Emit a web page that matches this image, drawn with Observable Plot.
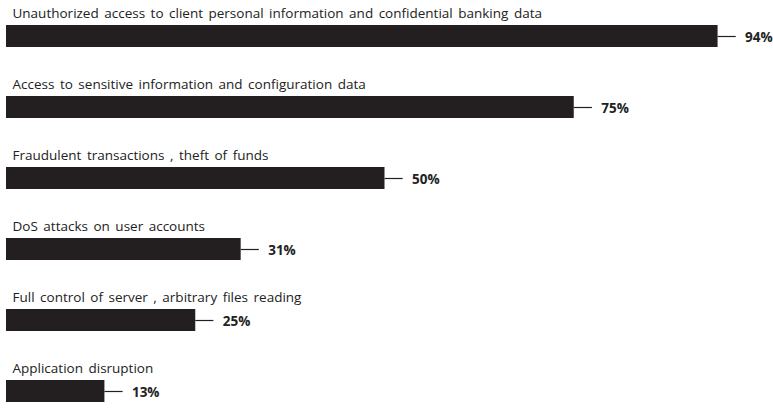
<!DOCTYPE html>
<html>
<head>
<meta charset="utf-8">
<script src="https://cdn.jsdelivr.net/npm/d3@7"></script>
<script src="https://cdn.jsdelivr.net/npm/@observablehq/plot@0.6"></script>
<style>
  html, body { margin: 0; padding: 0; background: #fff; }
  #chart svg { display: block; }
  #chart svg text { word-spacing: 2px; }
</style>
</head>
<body>
<div id="chart"></div>
<script>
const categories = [
  "Unauthorized access to client personal information and confidential banking data",
  "Access to sensitive information and configuration data",
  "Fraudulent transactions , theft of funds",
  "DoS attacks on user accounts",
  "Full control of server , arbitrary files reading",
  "Application disruption"
];
const values = [94, 75, 50, 31, 25, 13];
const valueLabels = ["94%", "75%", "50%", "31%", "25%", "13%"];

const data = categories.map((c, i) => ({ category: c, value: values[i], label: valueLabels[i] }));

const step = 71.8, pad = 0.694;
const a = 34 - step * (1 + pad) / 2;
const b = a + step * (categories.length + pad);

const font = "'Open Sans', sans-serif";

const chart = Plot.plot({
  width: 773,
  height: 408,
  marginLeft: 6,
  marginRight: 10,
  marginTop: 0,
  marginBottom: 0,
  style: { fontFamily: font, background: "#fff", overflow: "visible" },
  x: { domain: [0, 100], axis: null },
  y: { type: "band", domain: categories, range: [a, b], padding: pad, align: 0.5, axis: null },
  marks: [
    Plot.barX(data, { y: "category", x: "value", fill: "#231f20" }),
    Plot.ruleY(data, { y: "category", x1: d => d.value, x2: d => d.value + 2.4, stroke: "#231f20", strokeWidth: 1.2 }),
    Plot.text(data, {
      y: "category", x: 0, text: "category", textAnchor: "start",
      dx: 6, dy: -23, fontSize: 13.5, fill: "#222", fontFamily: font
    }),
    Plot.text(data, {
      y: "category", x: "value", text: "label", textAnchor: "start",
      dx: 27, dy: 1, fontSize: 13.5, fontWeight: "bold", fill: "#222", fontFamily: font
    })
  ]
});
document.getElementById("chart").appendChild(chart);
</script>
</body>
</html>
